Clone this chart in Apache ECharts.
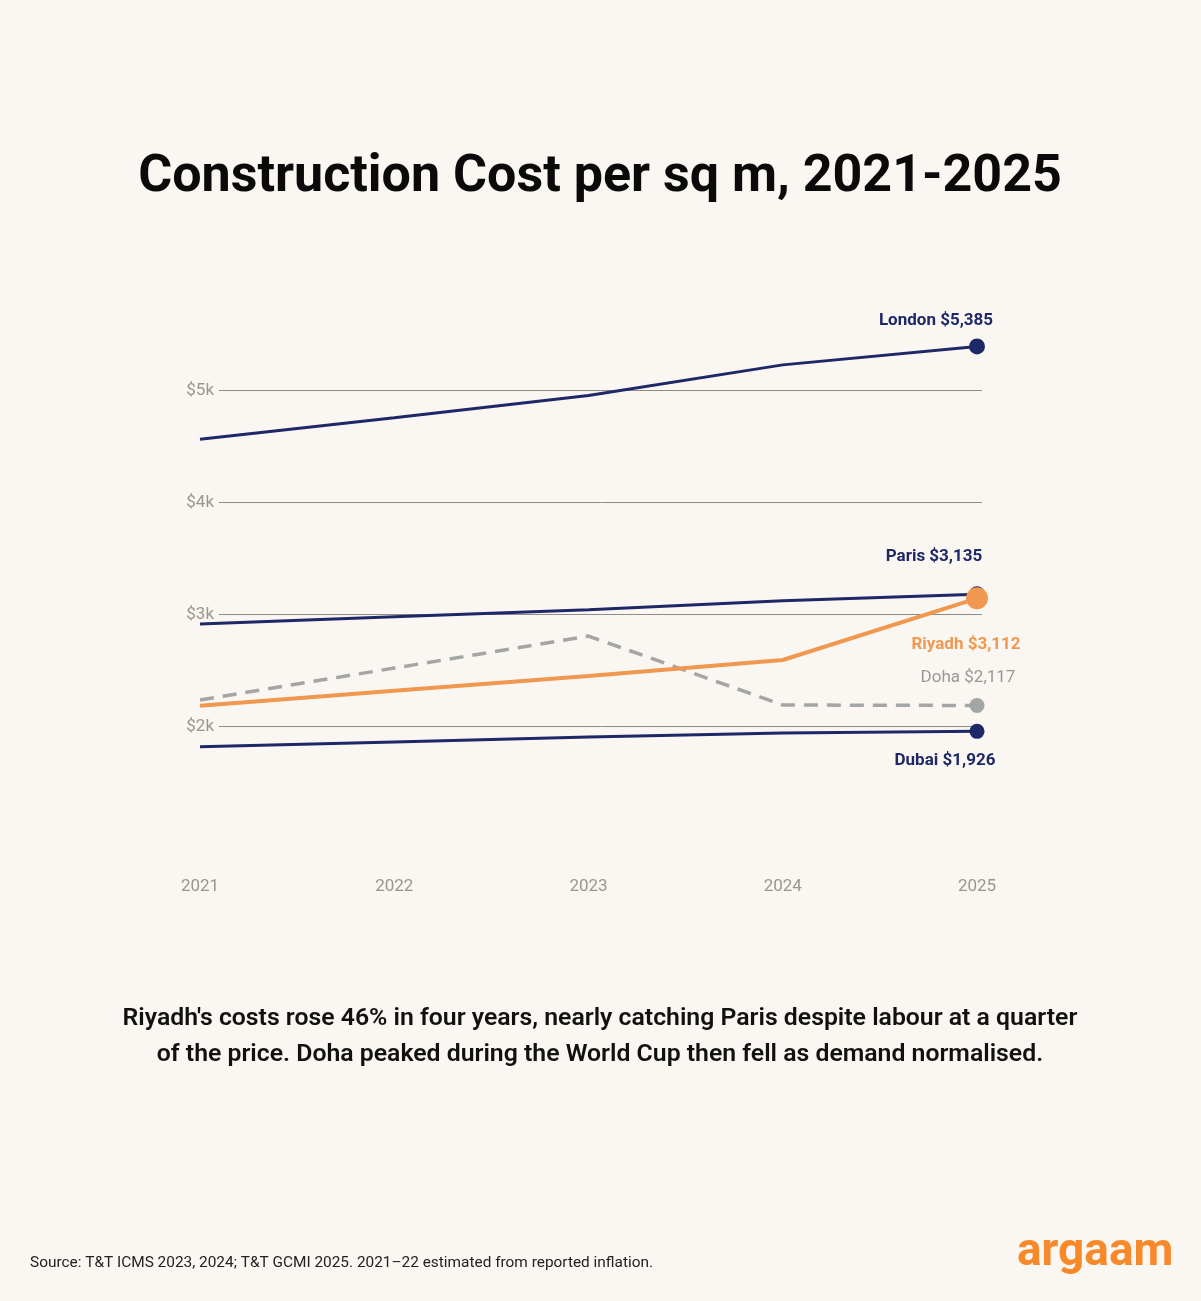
<!DOCTYPE html>
<html>
<head>
<meta charset="utf-8">
<script src="https://cdn.jsdelivr.net/npm/echarts@6/dist/echarts.min.js"></script>
<style>
  html, body { margin: 0; padding: 0; background: #faf7f2; }
  #chart { width: 1201px; height: 1301px; }
</style>
</head>
<body>
<div id="chart"></div>
<script>
// years on the x axis
const years = ['2021', '2022', '2023', '2024', '2025'];
// gridline ticks
const yTicks = [2000, 3000, 4000, 5000];

// cost per sq m (USD)
const london = [4562, 4755, 4953, 5227, 5392];
const paris = [2913, 2978, 3040, 3120, 3180];
const doha = [2235, 2520, 2806, 2190, 2186];
const dubai = [1818, 1860, 1905, 1940, 1955];
const riyadh = [2184, 2317, 2449, 2592, 3143];

const endLabels = {
    London: 'London $5,385',
    Paris: 'Paris $3,135',
    Doha: 'Doha $2,117',
    Dubai: 'Dubai $1,926',
    Riyadh: 'Riyadh $3,112'
};

const NAVY = '#1f2866';
const ORANGE = '#f0984f';
const GREY = '#a3a6a4';
const FONT = 'Roboto, "Noto Sans", sans-serif';

function buildData(values, size, labelColor, labelWeight, offset, text) {
    const last = values.length - 1;
    return values.map((v, i) => {
        if (i !== last) return v;
        return {
            value: v,
            symbol: size ? 'circle' : 'none',
            symbolSize: size,
            label: {
                show: true,
                position: 'inside',
                offset: offset,
                formatter: text,
                color: labelColor,
                fontFamily: FONT,
                fontSize: 17,
                fontWeight: labelWeight
            }
        };
    });
}

function lineSeries(name, values, color, width, size, dashed, labelColor, labelWeight, offset) {
    return {
        name: name,
        type: 'line',
        xAxisIndex: 1,
        yAxisIndex: 1,
        clip: false,
        showSymbol: true,
        symbol: 'none',
        z: 3,
        lineStyle: { color: color, width: width, type: dashed ? [14, 9] : 'solid', cap: 'butt' },
        itemStyle: { color: color },
        label: { show: false },
        emphasis: { disabled: true },
        data: buildData(values, size, labelColor, labelWeight, offset, endLabels[name])
    };
}

const chart = echarts.init(document.getElementById('chart'));
chart.setOption({
    backgroundColor: '#faf7f2',
    animation: false,
    title: [
        {
            text: 'Construction Cost per sq m, 2021-2025',
            left: 600, top: 152, textAlign: 'center', padding: 0,
            textStyle: { fontFamily: FONT, fontSize: 52, fontWeight: 'bold', color: '#0a0a0a' }
        },
        {
            text: "Riyadh's costs rose 46% in four years, nearly catching Paris despite labour at a quarter\nof the price. Doha peaked during the World Cup then fell as demand normalised.",
            left: 600, top: 1001, textAlign: 'center', padding: 0,
            textStyle: { fontFamily: FONT, fontSize: 24.8, fontWeight: 600, color: '#111', lineHeight: 36 }
        },
        {
            text: 'Source: T&T ICMS 2023, 2024; T&T GCMI 2025. 2021\u201322 estimated from reported inflation.',
            left: 30, top: 1256, padding: 0,
            textStyle: { fontFamily: FONT, fontSize: 15.4, fontWeight: 'normal', color: '#222' }
        },
        {
            text: 'argaam',
            left: 1017, top: 1230, padding: 0,
            textStyle: { fontFamily: FONT, fontSize: 46, fontWeight: 'bold', color: '#f7892a' }
        }
    ],
    grid: [
        // gridline grid
        { left: 219, right: 219, top: 390.3, bottom: 574.7 },
        // data grid
        { left: 200, right: 224, top: 390.3, bottom: 574.7 }
    ],
    xAxis: [
        { gridIndex: 0, type: 'value', show: false, min: 0, max: 1 },
        {
            gridIndex: 1, type: 'category', data: years, boundaryGap: false,
            axisLine: { show: false }, axisTick: { show: false }, splitLine: { show: false },
            axisLabel: { margin: 152, color: '#9b9592', fontFamily: FONT, fontSize: 17 }
        }
    ],
    yAxis: [
        {
            gridIndex: 0, type: 'value', min: yTicks[0], max: yTicks[yTicks.length - 1], interval: 1000,
            axisLine: { show: false }, axisTick: { show: false },
            splitLine: { lineStyle: { color: '#8f8b89', width: 1 } },
            axisLabel: {
                margin: 5, color: '#9b9592', fontFamily: FONT, fontSize: 17,
                formatter: v => '$' + (v / 1000) + 'k'
            }
        },
        {
            gridIndex: 1, type: 'value', min: yTicks[0], max: yTicks[yTicks.length - 1], show: false
        }
    ],
    series: [
        lineSeries('London', london, NAVY, 3, 16, false, NAVY, 'bold', [-41, -26]),
        lineSeries('Paris', paris, NAVY, 3, 16, false, NAVY, 'bold', [-43, -37]),
        lineSeries('Doha', doha, GREY, 3.5, 15, true, '#9a9896', 'normal', [-9, -28]),
        lineSeries('Dubai', dubai, NAVY, 3, 15, false, NAVY, 'bold', [-32, 29]),
        lineSeries('Riyadh', riyadh, ORANGE, 4, 22, false, ORANGE, 'bold', [-11, 46])
    ]
});
</script>
</body>
</html>
